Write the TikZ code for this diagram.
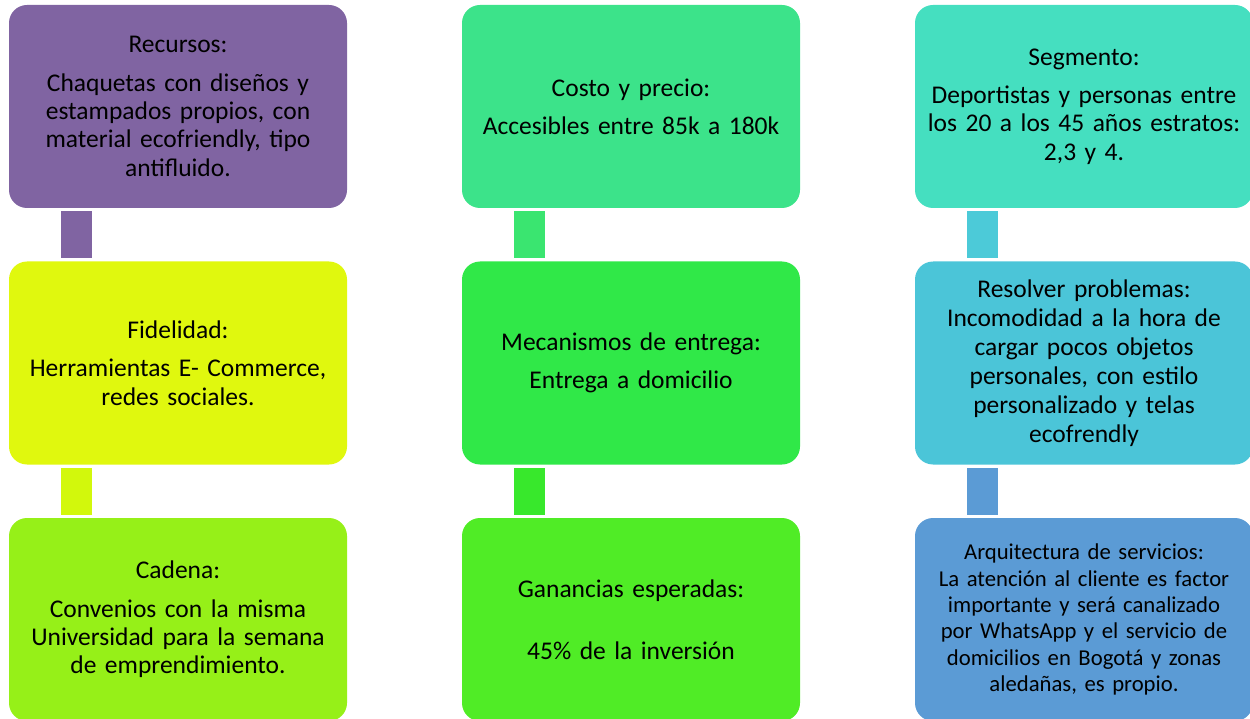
\documentclass[tikz,border=0pt]{standalone}
\usepackage{fontspec}
\setmainfont{Carlito}
\usetikzlibrary{calc}
\definecolor{cPurple}{HTML}{8064A2}
\definecolor{cYellow}{HTML}{E0F80E}
\definecolor{cYellowC}{HTML}{D2F80C}
\definecolor{cLime}{HTML}{96F018}
\definecolor{cMint}{HTML}{3CE38A}
\definecolor{cMintC}{HTML}{3AE570}
\definecolor{cGreen}{HTML}{30E848}
\definecolor{cGreenC}{HTML}{38E82C}
\definecolor{cGreen3}{HTML}{50EC26}
\definecolor{cTeal}{HTML}{45DFC0}
\definecolor{cCyanC}{HTML}{4CCAD8}
\definecolor{cCyan}{HTML}{4BC5D8}
\definecolor{cBlue}{HTML}{5B9BD5}
\tikzset{
  card/.style={rounded corners=18pt, minimum width=338pt, minimum height=203pt,
    text width=336pt, align=center, inner sep=0pt, text=black,
    font=\fontsize{25.5}{28.3}\selectfont},
}
\newcommand{\hgap}{\\[10pt]}
\begin{document}
\begin{tikzpicture}[x=1pt,y=-1pt]
\useasboundingbox (0,0) rectangle (1250,719);
\clip (0,0) rectangle (1250,719);
% column 1
\node[card, fill=cPurple] (r1) at (178,106.5) {Recursos:\hgap Chaquetas con diseños y\\ estampados propios, con\\ material ecofriendly, tipo\\ antifluido.};
\node[card, fill=cYellow] (f1) at (178,363) {Fidelidad:\hgap Herramientas E- Commerce,\\ redes sociales.};
\node[card, fill=cLime] (c1) at (178,619.5) {Cadena:\hgap Convenios con la misma\\ Universidad para la semana\\ de emprendimiento.};
% column 2
\node[card, fill=cMint] (r2) at (631,106.5) {Costo y precio:\hgap Accesibles entre 85k a 180k};
\node[card, fill=cGreen] (f2) at (631,363) {Mecanismos de entrega:\hgap Entrega a domicilio};
\node[card, fill=cGreen3] (c2) at (631,619.5) {Ganancias esperadas:\\[34pt] 45\% de la inversión};
% column 3
\node[card, fill=cTeal] (r3) at (1084,106.5) {Segmento:\hgap Deportistas y personas entre\\ los 20 a los 45 años estratos:\\ 2,3 y 4.};
\node[card, fill=cCyan, font=\fontsize{25.5}{29}\selectfont] (f3) at (1084,363) {Resolver problemas:\\ Incomodidad a la hora de\\ cargar pocos objetos\\ personales, con estilo\\ personalizado y telas\\ ecofrendly};
\node[card, fill=cBlue, font=\fontsize{22.7}{26.3}\selectfont] (c3) at (1084,619.5) {Arquitectura de servicios:\\ La atención al cliente es factor\\ importante y será canalizado\\ por WhatsApp y el servicio de\\ domicilios en Bogotá y zonas\\ aledañas, es propio.};
% connectors
\fill[cPurple] ($(r1.south west)+(52,3)$) rectangle ($(f1.north west)+(83,-3)$);
\fill[cYellowC] ($(f1.south west)+(52,3)$) rectangle ($(c1.north west)+(83,-3)$);
\fill[cMintC] ($(r2.south west)+(52,3)$) rectangle ($(f2.north west)+(83,-3)$);
\fill[cGreenC] ($(f2.south west)+(52,3)$) rectangle ($(c2.north west)+(83,-3)$);
\fill[cCyanC] ($(r3.south west)+(52,3)$) rectangle ($(f3.north west)+(83,-3)$);
\fill[cBlue] ($(f3.south west)+(52,3)$) rectangle ($(c3.north west)+(83,-3)$);
\end{tikzpicture}
\end{document}
